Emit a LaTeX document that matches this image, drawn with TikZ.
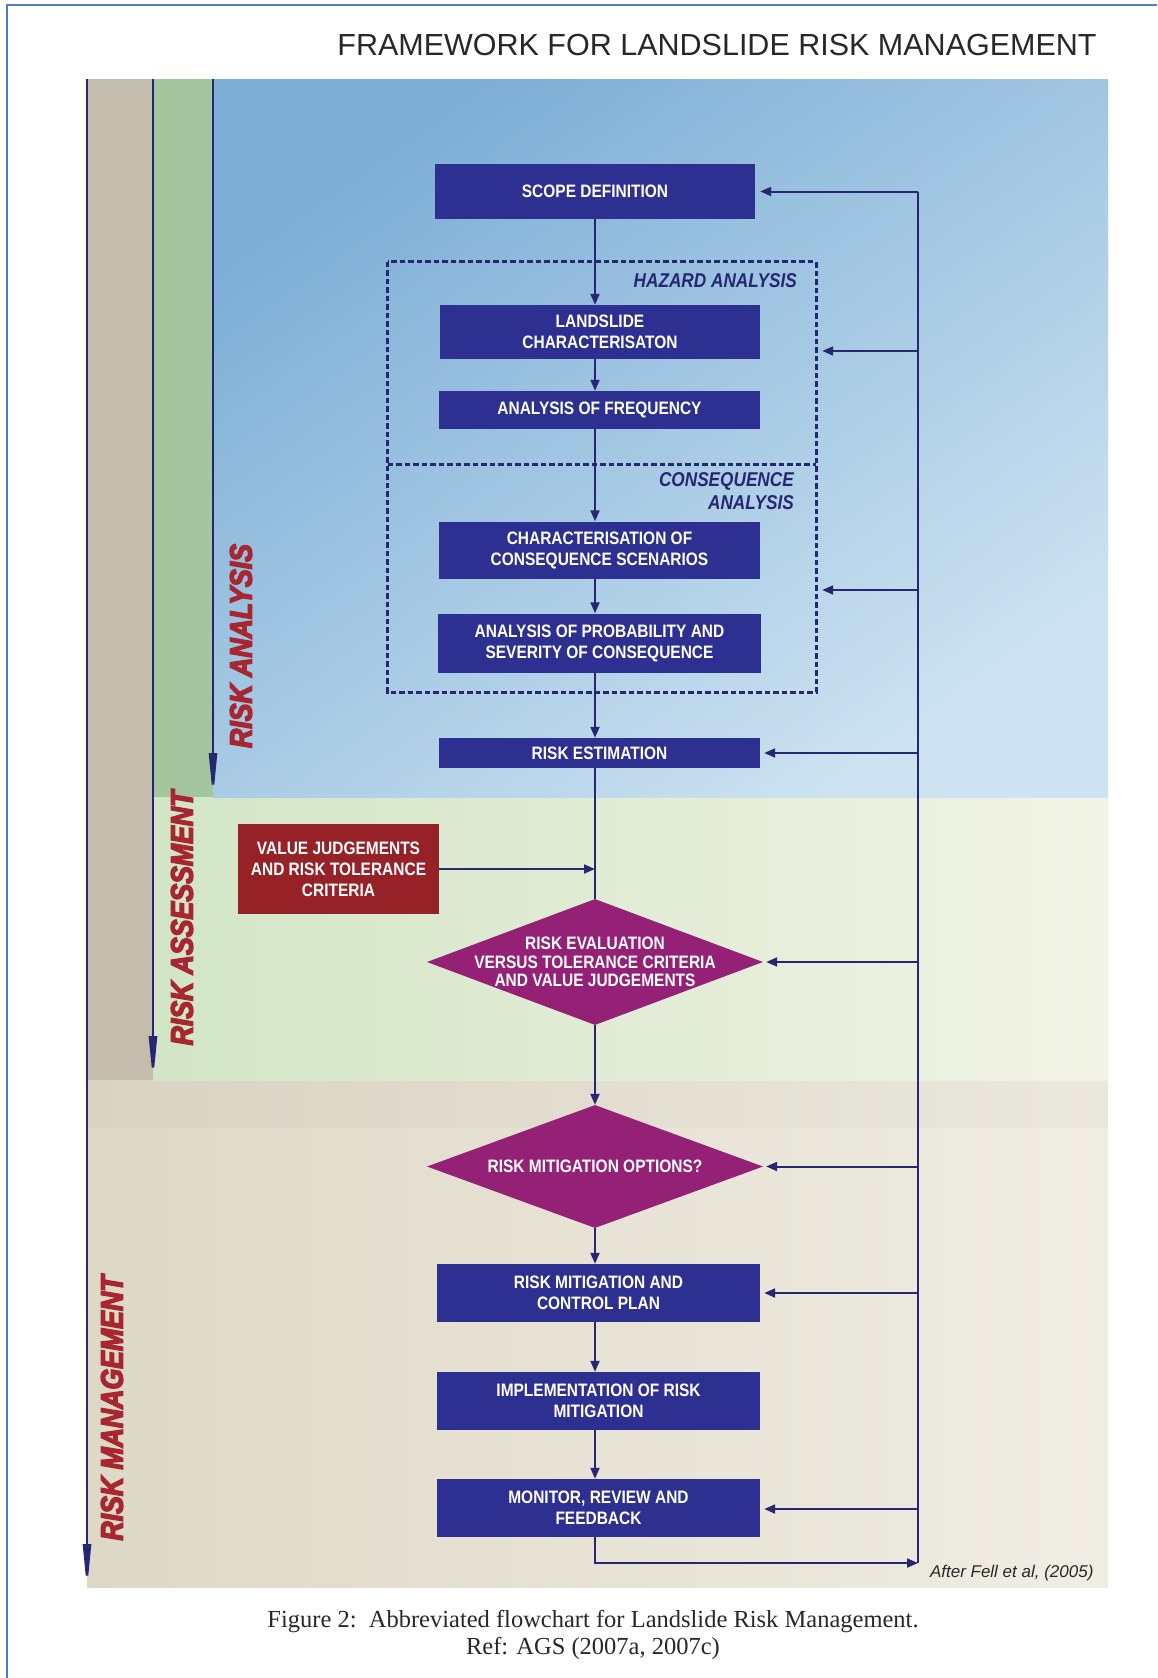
\documentclass[tikz,border=0pt]{standalone}
\usepackage{fontspec}
\setmainfont{Liberation Sans}
\newfontfamily\narrowf[FakeStretch=0.86]{Liberation Sans}
\newfontfamily\heavyf[FakeStretch=0.86,FakeBold=4.5]{Liberation Sans}
\newfontfamily\serff{Liberation Serif}
\usetikzlibrary{shapes.geometric,arrows.meta}

\definecolor{boxblue}{RGB}{45,48,145}
\definecolor{navy}{RGB}{38,38,115}
\definecolor{vjred}{RGB}{150,33,38}
\definecolor{diamag}{RGB}{148,33,118}
\definecolor{lblred}{RGB}{168,38,48}
\definecolor{framebl}{RGB}{75,125,200}
\definecolor{greyst}{RGB}{196,188,172}
\definecolor{greenst}{RGB}{163,198,158}
\definecolor{blueA}{RGB}{125,174,214}
\definecolor{blueB}{RGB}{205,227,241}
\definecolor{greenA}{RGB}{210,229,198}
\definecolor{greenB}{RGB}{242,243,230}
\definecolor{beigeA}{RGB}{222,216,198}
\definecolor{beigeB}{RGB}{240,237,228}
\definecolor{titlegr}{RGB}{40,40,40}

\begin{document}
\begin{tikzpicture}[x=1pt,y=-1pt,
  boxfont/.style={font=\narrowf\bfseries\fontsize{18}{21}\selectfont},
  stepbox/.style={boxfont, fill=boxblue, text=white, align=center, inner sep=0pt},
  valbox/.style={boxfont, fill=vjred, text=white, align=center, inner sep=0pt},
  decbox/.style={diamond, fill=diamag, inner sep=0pt},
  dectext/.style={font=\narrowf\bfseries\fontsize{18}{18.5}\selectfont, text=white, align=center, inner sep=0pt},
  grplbl/.style={font=\narrowf\bfseries\itshape\fontsize{20}{23}\selectfont, text=navy, inner sep=0pt},
  striplbl/.style={font=\heavyf\bfseries\itshape\fontsize{31}{31}\selectfont, text=lblred, rotate=90, inner sep=0pt},
  stripline/.style={navy, line width=2.5pt, -{Triangle[length=46pt,width=8pt]}},
  flowline/.style={navy, line width=2pt},
  flowarr/.style={navy, line width=2pt, -{Triangle[length=11pt,width=9pt]}},
  grpbox/.style={inner sep=0pt},
  grpdash/.style={navy, line width=3pt, dash pattern=on 5.5pt off 3pt}
]
\useasboundingbox (0,0) rectangle (1157,1678);
\fill[white] (0,0) rectangle (1157,1678);
\draw[framebl, line width=2pt] (7,1678) -- (7,5) -- (1157,5);

\node[font=\fontsize{30.5}{34}\selectfont, text=titlegr] (title) at (717,45) {FRAMEWORK FOR LANDSLIDE RISK MANAGEMENT};

% background regions
\shade[left color=beigeA, right color=beigeB] (87,79) rectangle (1108,1587);
\fill[black, opacity=0.018] (87,1080) rectangle (1108,1128);
\fill[greyst] (87,79) rectangle (153,1080);
\shade[left color=greenA, right color=greenB] (153,79) rectangle (1108,1080);
\fill[greenst] (153,79) rectangle (213,797);
\shade[top color=blueA, bottom color=blueB, shading angle=35] (213,79) rectangle (1108,797);

% strip arrows
\coordinate (mgtop) at (87,79);  \coordinate (mgbot) at (87,1590);
\coordinate (astop) at (153,79); \coordinate (asbot) at (153,1082);
\coordinate (antop) at (213,79); \coordinate (anbot) at (213,799);
\draw[stripline] (mgtop) -- (mgbot);
\draw[stripline] (astop) -- (asbot);
\draw[stripline] (antop) -- (anbot);

\node[striplbl] (lblan) at (241,646) {RISK ANALYSIS};
\node[striplbl] (lblas) at (182,918) {RISK ASSESSMENT};
\node[striplbl] (lblmg) at (112,1408) {RISK MANAGEMENT};

% group (dashed) boxes
\node[grpbox, minimum width=428pt, minimum height=202pt] (hazbox) at (602,363) {};
\node[grpbox, minimum width=428pt, minimum height=228pt] (conbox) at (602,578) {};
\draw[grpdash] (hazbox.north west) rectangle (conbox.south east);
\draw[grpdash] (hazbox.south west) -- (hazbox.south east);
\node[grplbl, anchor=east] (hazlbl) at (797,281) {HAZARD ANALYSIS};
\node[grplbl, anchor=north east, align=right] (conlbl) at (794,472) {CONSEQUENCE\\ANALYSIS};

% flow nodes
\node[stepbox, minimum width=320pt, minimum height=55pt] (scope) at (595,191.5) {SCOPE DEFINITION};
\node[stepbox, minimum width=320pt, minimum height=54pt] (land) at (600,332) {LANDSLIDE\\CHARACTERISATON};
\node[stepbox, minimum width=321pt, minimum height=38pt] (freq) at (599.5,410) {ANALYSIS OF FREQUENCY};
\node[stepbox, minimum width=321pt, minimum height=57pt] (conseq) at (599.5,550) {CHARACTERISATION OF\\CONSEQUENCE SCENARIOS};
\node[stepbox, minimum width=323pt, minimum height=59pt] (prob) at (599.5,643) {ANALYSIS OF PROBABILITY AND\\SEVERITY OF CONSEQUENCE};
\node[stepbox, minimum width=321pt, minimum height=30pt] (riskest) at (599.5,753) {RISK ESTIMATION};
\node[valbox, minimum width=201pt, minimum height=90pt] (value) at (338.5,869) {VALUE JUDGEMENTS\\AND RISK TOLERANCE\\CRITERIA};
\node[decbox, minimum width=336pt, minimum height=126pt] (d1) at (595,962) {};
\node[dectext] (d1t) at (595,962) {RISK EVALUATION\\VERSUS TOLERANCE CRITERIA\\AND VALUE JUDGEMENTS};
\node[decbox, minimum width=336pt, minimum height=123pt] (d2) at (595,1166.5) {};
\node[dectext] (d2t) at (595,1166.5) {RISK MITIGATION OPTIONS?};
\node[stepbox, minimum width=323pt, minimum height=58pt] (plan) at (598.5,1293) {RISK MITIGATION AND\\CONTROL PLAN};
\node[stepbox, minimum width=323pt, minimum height=58pt] (impl) at (598.5,1401) {IMPLEMENTATION OF RISK\\MITIGATION};
\node[stepbox, minimum width=323pt, minimum height=58pt] (mon) at (598.5,1508) {MONITOR, REVIEW AND\\FEEDBACK};

% main flow
\draw[flowarr] (scope.south -| scope) -- (land.north -| scope);
\draw[flowarr] (land.south -| scope) -- (freq.north -| scope);
\draw[flowarr] (freq.south -| scope) -- (conseq.north -| scope);
\draw[flowarr] (conseq.south -| scope) -- (prob.north -| scope);
\draw[flowarr] (prob.south -| scope) -- (riskest.north -| scope);
\draw[flowline] (riskest.south -| scope) -- (d1.north);
\draw[flowarr] (value.east) -- (value.east -| scope);
\draw[flowarr] (d1.south) -- (d2.north);
\draw[flowarr] (d2.south) -- (plan.north -| d2.south);
\draw[flowarr] (plan.south -| d2.south) -- (impl.north -| d2.south);
\draw[flowarr] (impl.south -| d2.south) -- (mon.north -| d2.south);

% feedback loop
\coordinate (fbA) at (918,191.5);
\coordinate (fbB) at (918,351);
\coordinate (fbC) at (918,590);
\coordinate (fbD) at (918,753);
\coordinate (fbE) at (918,962);
\coordinate (fbF) at (918,1166.5);
\coordinate (fbG) at (918,1293);
\coordinate (fbH) at (918,1509);
\coordinate (fbZ) at (918,1563);
\draw[flowline] (fbA) -- (fbZ);
\draw[flowarr] (mon.south -| d2.south) -- (d2.south |- fbZ) -- (fbZ);
\draw[flowarr, shorten >=5pt] (fbA) -- (scope.east);
\draw[flowarr, shorten >=6pt] (fbB) -- (fbB -| hazbox.east);
\draw[flowarr, shorten >=6pt] (fbC) -- (fbC -| conbox.east);
\draw[flowarr, shorten >=4pt] (fbD) -- (riskest.east);
\draw[flowarr, shorten >=3pt] (fbE) -- (d1.east);
\draw[flowarr, shorten >=3pt] (fbF) -- (d2.east);
\draw[flowarr, shorten >=4pt] (fbG) -- (plan.east);
\draw[flowarr, shorten >=4pt] (fbH) -- (fbH -| mon.east);

\node[font=\itshape\fontsize{17}{20}\selectfont, text=titlegr, anchor=east] (after) at (1097,1573) {After Fell et al, (2005)};

\node[font=\serff\fontsize{24.5}{27}\selectfont, text=titlegr, align=center] (caption) at (593,1634.5) {Figure 2:\ \ Abbreviated flowchart for Landslide Risk Management.\\Ref: AGS (2007a, 2007c)};
\end{tikzpicture}
\end{document}
